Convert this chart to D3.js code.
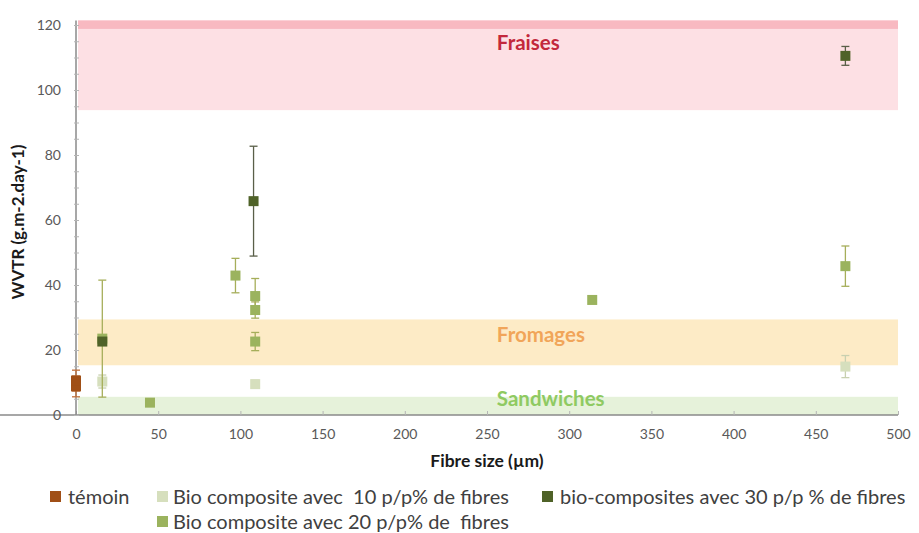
<!DOCTYPE html>
<html>
<head>
<meta charset="utf-8">
<script src="https://cdn.jsdelivr.net/npm/d3@7"></script>
<style>
  html, body { margin: 0; padding: 0; background: #fff; }
  svg { display: block; font-family: Lato, "Open Sans", "Liberation Sans", sans-serif; }
</style>
</head>
<body>
<svg id="chart" width="919" height="533"></svg>
<script>
// ---------- data ----------
const xTicks = [0, 50, 100, 150, 200, 250, 300, 350, 400, 450, 500];
const yTicks = [0, 20, 40, 60, 80, 100, 120];

const seriesNames = [
  "témoin",
  "Bio composite avec  10 p/p% de fibres",
  "Bio composite avec 20 p/p% de  fibres",
  "bio-composites avec 30 p/p % de fibres"
];

const temoinSize = [0, 0];
const temoinWVTR = [8.8, 10.6];
const temoinErr  = [3.2, 3.2];

const bio10Size = [16, 109, 468];
const bio10WVTR = [10.3, 9.5, 14.9];
const bio10Err  = [2.0, 1.2, 3.4];

const bio20Size = [16, 45, 97, 109, 109, 109, 314, 468];
const bio20WVTR = [23.5, 3.8, 42.9, 36.6, 32.3, 22.6, 35.4, 45.8];
const bio20Err  = [18.0, 0.8, 5.3, 5.4, 2.5, 2.8, 0.6, 6.2];

const bio30Size = [16, 108, 468];
const bio30WVTR = [22.6, 65.8, 110.5];
const bio30Err  = [1.0, 16.9, 2.9];

const bandNames = ["Fraises", "Fromages", "Sandwiches"];
const bandLow   = [93.8, 15.3, 0];
const bandHigh  = [121.4, 29.4, 5.6];
const bandLabelY = [114.6, 24.6, 5.0];
const bandLabelX = 256;

// ---------- styles ----------
const seriesColors = ["#a04f16", "#d6dfbd", "#9bb35e", "#4f6228"];
const errColors    = ["#c0703a", "#c8d0b0", "#a6ae5a", "#5a5f48"];
const bandFill  = ["#fde0e4", "#fdebc6", "#e6f2da"];
const bandText  = ["#c3283c", "#f1a559", "#8fca62"];

const svg = d3.select("#chart");
const x = d3.scaleLinear().domain([0, 500]).range([76, 898]);
const y = d3.scaleLinear().domain([0, 120]).range([415, 25]);

// bands
const bands = bandNames.map((n, i) => ({name: n, lo: bandLow[i], hi: bandHigh[i], ly: bandLabelY[i], i}));
svg.append("g").selectAll("rect").data(bands).join("rect")
  .attr("x", x(0) + 2).attr("width", x(500) - x(0) - 2)
  .attr("y", d => y(d.hi)).attr("height", d => y(d.lo) - y(d.hi))
  .attr("fill", d => bandFill[d.i]);
// darker strip on top of Fraises band
svg.append("rect")
  .attr("x", x(0) + 2).attr("width", x(500) - x(0) - 2)
  .attr("y", y(bandHigh[0])).attr("height", y(118.8) - y(bandHigh[0]))
  .attr("fill", "#f8b9c1");

// axes
const axisColor = "#8a8a8a";
const gx = svg.append("g").attr("transform", `translate(0,${y(0)})`)
  .call(d3.axisBottom(x).tickValues(xTicks).tickSize(-4).tickPadding(14).tickFormat(d3.format("d")));
const gy = svg.append("g").attr("transform", `translate(${x(0)},0)`)
  .call(d3.axisLeft(y).tickValues(d3.range(0, 121, 5)).tickSize(4).tickPadding(11)
    .tickFormat(d => yTicks.includes(d) ? d : ""));
gy.selectAll(".tick line").attr("x2", 3).attr("x1", -2);
[gx, gy].forEach(g => {
  g.select(".domain").attr("stroke", axisColor).attr("stroke-width", 1.5);
  g.selectAll(".tick line").attr("stroke", "#b5b5b5");
  g.selectAll(".tick text").attr("fill", "#595959").attr("font-size", 14)
    .attr("font-family", "Lato, sans-serif");
});
gy.select(".domain").attr("d", `M0,${y(0)}V${y(121.4)}`);
gx.select(".domain").attr("d", `M0,0H${x(500)}`);

// band labels
svg.append("g").selectAll("text").data(bands).join("text")
  .attr("x", x(bandLabelX)).attr("y", d => y(d.ly))
  .attr("dy", "0.35em")
  .attr("font-size", 20.5).attr("font-weight", "bold")
  .attr("fill", d => bandText[d.i]).text(d => d.name);

// series
const series = [
  {s: temoinSize, v: temoinWVTR, e: temoinErr},
  {s: bio10Size, v: bio10WVTR, e: bio10Err},
  {s: bio20Size, v: bio20WVTR, e: bio20Err},
  {s: bio30Size, v: bio30WVTR, e: bio30Err}
];
const ms = 10, cap = 4;
series.forEach((sr, k) => {
  const pts = sr.s.map((sz, i) => ({x: sz, v: sr.v[i], e: sr.e[i]}));
  const g = svg.append("g");
  const eb = g.selectAll("g.eb").data(pts).join("g").attr("class", "eb")
    .attr("stroke", errColors[k]).attr("stroke-width", 1.3);
  eb.append("line").attr("x1", d => x(d.x)).attr("x2", d => x(d.x))
    .attr("y1", d => y(d.v + d.e)).attr("y2", d => y(d.v - d.e));
  eb.append("line").attr("x1", d => x(d.x) - cap).attr("x2", d => x(d.x) + cap)
    .attr("y1", d => y(d.v + d.e)).attr("y2", d => y(d.v + d.e));
  eb.append("line").attr("x1", d => x(d.x) - cap).attr("x2", d => x(d.x) + cap)
    .attr("y1", d => y(d.v - d.e)).attr("y2", d => y(d.v - d.e));
  g.selectAll("rect").data(pts).join("rect")
    .attr("x", d => x(d.x) - ms / 2).attr("y", d => y(d.v) - ms / 2)
    .attr("width", ms).attr("height", ms)
    .attr("fill", seriesColors[k]);
});

// axis titles
svg.append("text").attr("x", 487).attr("y", 467).attr("text-anchor", "middle")
  .attr("font-size", 17.5).attr("font-weight", "bold").attr("fill", "#1a1a1a")
  .text("Fibre size (µm)");
svg.append("text").attr("transform", "translate(24,222) rotate(-90)")
  .attr("text-anchor", "middle").attr("font-size", 17).attr("font-weight", "bold")
  .attr("fill", "#1a1a1a").text("WVTR (g.m-2.day-1)");

// legend
const legendPos = [
  {mx: 50, tx: 68, y: 497},
  {mx: 157, tx: 173, y: 497},
  {mx: 157, tx: 173, y: 522},
  {mx: 542, tx: 560, y: 497}
];
const lg = svg.append("g").selectAll("g").data(seriesNames).join("g");
lg.append("rect").attr("x", (d, i) => legendPos[i].mx).attr("y", (d, i) => legendPos[i].y - 6)
  .attr("width", 11).attr("height", 11).attr("fill", (d, i) => seriesColors[i]);
lg.append("text").attr("x", (d, i) => legendPos[i].tx).attr("y", (d, i) => legendPos[i].y)
  .attr("dy", "0.35em").attr("font-size", 20).attr("fill", "#404040")
  .style("white-space", "pre").attr("xml:space", "preserve").text(d => d);
</script>
</body>
</html>
